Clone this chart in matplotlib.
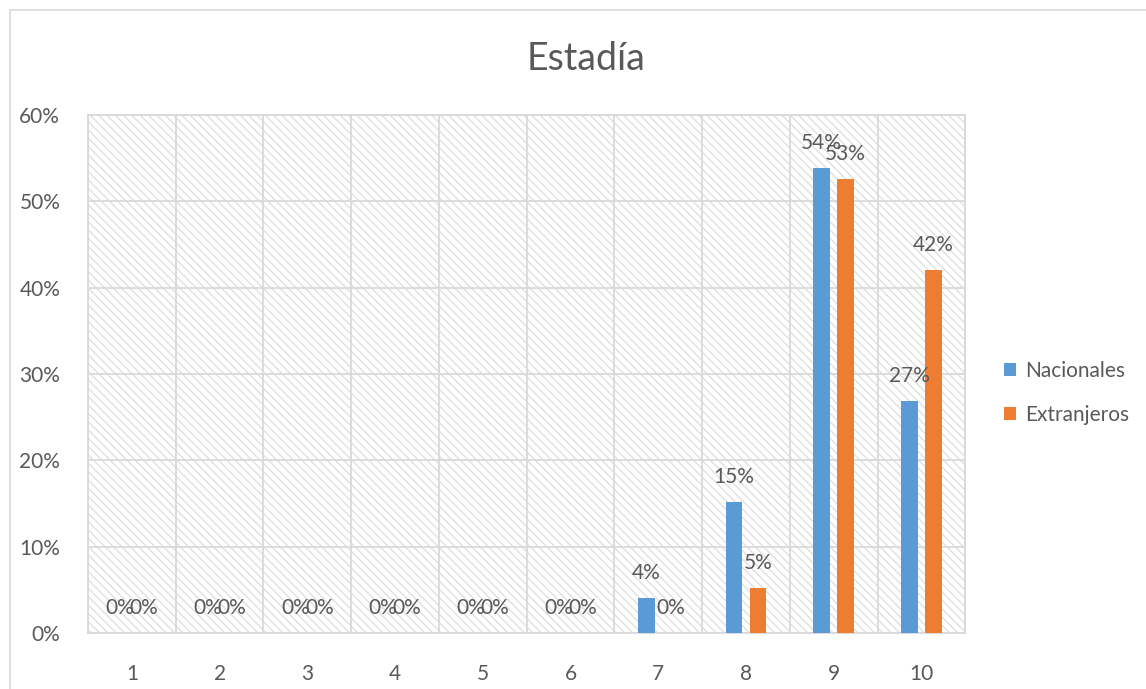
import numpy as np
import matplotlib
matplotlib.use('Agg')
import matplotlib.pyplot as plt
from matplotlib.patches import Rectangle

plt.rcParams['font.family'] = ['Lato', 'DejaVu Sans']
plt.rcParams['hatch.color'] = '#e0e0e0'
plt.rcParams['hatch.linewidth'] = 1.0

categorias = ['1', '2', '3', '4', '5', '6', '7', '8', '9', '10']
nacionales = [0, 0, 0, 0, 0, 0, 4.1, 15.2, 53.8, 26.9]
extranjeros = [0, 0, 0, 0, 0, 0, 0, 5.2, 52.6, 42.0]
etiquetas_nac = ['0%', '0%', '0%', '0%', '0%', '0%', '4%', '15%', '54%', '27%']
etiquetas_ext = ['0%', '0%', '0%', '0%', '0%', '0%', '0%', '5%', '53%', '42%']

azul = '#5B9BD5'
naranja = '#ED7D31'
gris = '#d9d9d9'
texto = '#595959'

fig = plt.figure(figsize=(11.46, 6.89), dpi=100)
ax = fig.add_axes([0.0768, 0.0813, 0.7655, 0.752])

# marco del área del gráfico
fig.patches.append(Rectangle((10 / 1146, -0.1), 1.2, (689 - 10) / 689 + 0.1,
                             transform=fig.transFigure, fill=False,
                             edgecolor=gris, linewidth=1.2))

x = np.arange(len(categorias))
ancho = 0.19
off = 0.137

# fondo rayado
ax.add_patch(Rectangle((0, 0), 1, 1, transform=ax.transAxes, facecolor='white',
                       hatch='\\\\\\\\', edgecolor='#e0e0e0', linewidth=0, zorder=0))

b1 = ax.bar(x - off, nacionales, ancho, color=azul, label='Nacionales', zorder=3)
b2 = ax.bar(x + off, extranjeros, ancho, color=naranja, label='Extranjeros', zorder=3)

for barras, etq in ((b1, etiquetas_nac), (b2, etiquetas_ext)):
    for r, t in zip(barras, etq):
        ax.annotate(t, (r.get_x() + r.get_width() / 2, r.get_height()),
                    xytext=(0, 18), textcoords='offset points',
                    ha='center', va='center', fontsize=15, color=texto, zorder=4)

ax.set_xlim(-0.5, len(categorias) - 0.5)
ax.set_ylim(0, 60)
ax.set_xticks(x)
ax.set_xticklabels(categorias)
ax.set_yticks(np.arange(0, 61, 10))
ax.set_yticklabels([f'{v}%' for v in range(0, 61, 10)])
ax.set_xticks(np.arange(-0.5, len(categorias), 1), minor=True)
ax.grid(True, which='minor', axis='x', color=gris, linewidth=1.3, zorder=1)
ax.grid(True, which='major', axis='y', color=gris, linewidth=1.3, zorder=1)
ax.tick_params(axis='both', which='both', length=0, labelsize=15, labelcolor=texto)
ax.tick_params(axis='x', pad=22)
ax.tick_params(axis='y', pad=20)
for s in ax.spines.values():
    s.set_color(gris)
    s.set_linewidth(1.3)

fig.text(0.511, 0.915, 'Estadía', ha='center', va='center', fontsize=27, color=texto)

fig.legend(handles=[b1, b2], loc='center left', bbox_to_anchor=(0.876, 0.43),
           frameon=False, fontsize=15, handlelength=0.6, handleheight=0.6,
           handletextpad=0.4, labelspacing=1.15, labelcolor=texto,
           borderpad=0, borderaxespad=0)

fig.savefig('out.png', dpi=100)
